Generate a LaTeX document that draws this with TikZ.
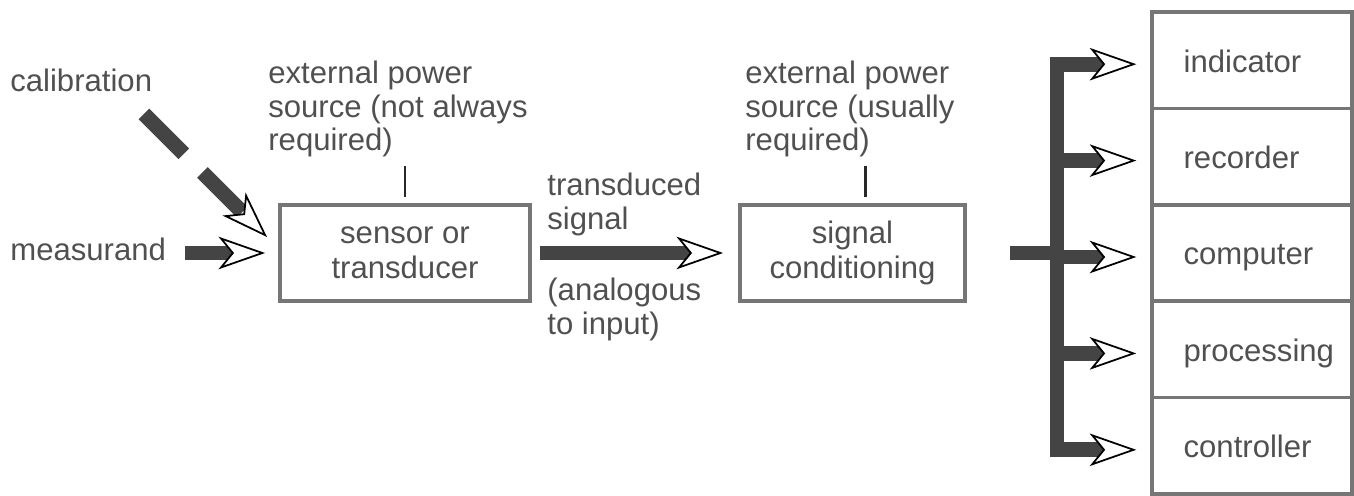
\documentclass[tikz,border=0pt]{standalone}
\usepackage{fontspec}
\setmainfont{Liberation Sans}
\usetikzlibrary{arrows.meta, calc}
\definecolor{txtgray}{RGB}{80, 80, 80}
\definecolor{boxgray}{RGB}{118, 118, 118}
\definecolor{bardark}{RGB}{68, 68, 68}
\definecolor{tickdark}{RGB}{40, 40, 40}

\begin{document}
\begin{tikzpicture}[
  x=0.02cm, y=-0.02cm,
  lbl/.style={font=\fontsize{17.7}{19}\selectfont, text=txtgray, inner sep=0pt, align=left},
  block/.style={draw=boxgray, line width=2.2pt, minimum height=1.92cm, align=center, inner sep=0pt, font=\fontsize{17.7}{20}\selectfont, text=txtgray},
  outbox/.style={draw=boxgray, line width=2pt, minimum width=4cm, minimum height=1.928cm, inner sep=0pt},
  bar/.style={draw=bardark, line width=8.5pt},
  tick/.style={draw=tickdark, line width=1.5pt},
  openhead/.tip={Stealth[length=26.5pt, width=18.5pt, inset=7.5pt, line width=1pt, color=black, fill=white]}
]
  \useasboundingbox (0,0) rectangle (1354,496);

  % inputs
  \node[lbl, anchor=base west] (cal) at (10,92) {calibration};
  \node[lbl, anchor=base west] (meas) at (10,260) {measurand};

  % blocks
  \node[block, minimum width=5cm] (sensor) at (405,253) {sensor or\\transducer};
  \node[block, minimum width=4.5cm] (sig) at (852.5,253) {signal\\conditioning};

  % notes
  \node[lbl, anchor=north west] (pow1) at (268,61) {external power\\source (not always\\required)};
  \node[lbl, anchor=north west] (pow2) at (745,61) {external power\\source (usually\\required)};
  \node[lbl, anchor=north west] (trans) at (547,173) {transduced\\signal};
  \node[lbl, anchor=north west] (analog) at (547,278) {(analogous\\to input)};

  % outputs
  \foreach \name/\txt [count=\i] in {ind/indicator, rec/recorder, comp/computer, proc/processing, ctrl/controller}{
    \node[outbox] (\name) at (1252,{12+96.4*(\i-0.5)}) {};
    \node[lbl, anchor=base west] (\name-t) at ([xshift=0.66cm, yshift=-0.24cm]\name.west) {\txt};
    \coordinate (\name-in) at ([yshift=-0.08cm]\name.west);
  }
  \coordinate (bus) at (1057,257);
  \coordinate (calfrom) at (144,114);
  \coordinate (calto) at (267,237);
  \coordinate (tick2) at ([xshift=0.26cm]sig.north);

  % arrows
  \draw[bar, dash pattern=on 32pt off 15pt, -{openhead}] (calfrom) -- (calto);
  \draw[bar, -{openhead}, shorten <=0.38cm, shorten >=0.26cm] (meas.east |- sensor.west) -- (sensor.west);
  \draw[bar, -{openhead}, shorten <=0.16cm, shorten >=0.3cm] (sensor.east) -- (sig.west);
  \draw[bar, shorten <=0.86cm] (sig.east) -- (sig.east -| bus);
  \draw[bar, line join=miter, {openhead}-{openhead}, shorten <=0.28cm, shorten >=0.28cm] (ind-in) -| (bus) |- (ctrl-in);
  \foreach \b in {rec, comp, proc}
    \draw[bar, -{openhead}, shorten >=0.28cm] (bus |- \b-in) -- (\b-in);

  % power ticks
  \draw[tick, shorten <=0.17cm, shorten >=0.13cm] (sensor.north |- pow1.south) -- (sensor.north);
  \draw[tick, shorten <=0.17cm, shorten >=0.13cm] (tick2 |- pow2.south) -- (tick2);
\end{tikzpicture}
\end{document}
